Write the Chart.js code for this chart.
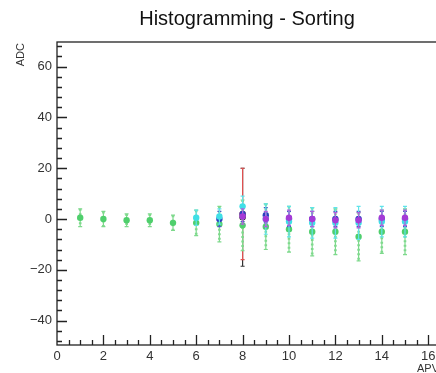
<!DOCTYPE html>
<html>
<head>
<meta charset="utf-8">
<script src="https://cdn.jsdelivr.net/npm/chart.js@4"></script>
<style>
  html, body { margin: 0; padding: 0; background: #fff; overflow: hidden; }
  #wrap { width: 494px; height: 373px; }
</style>
</head>
<body>
<div id="wrap"><canvas id="chart" width="494" height="373"></canvas></div>
<script>
// APV index along x
const apv = [1, 2, 3, 4, 5, 6, 7, 8, 9, 10, 11, 12, 13, 14, 15];

// ADC mean and error per series (null = not drawn)
const greenAdc = [0.5, 0, -0.5, -0.5, -1.5, -1.5, -2, -2.5, -3, -4, -5, -5, -7, -5, -5];
const greenErr = [3.5, 3, 2.5, 2.5, 3, 5, 7, 10, 9, 9, 9.5, 9, 9.5, 8.5, 9];
const cyanAdc = [null, null, null, null, null, 0.5, 1, 5, 0, -1, -1.5, -1.5, -1.5, -1, -1];
const cyanErr = [null, null, null, null, null, 3, 3, 4, 6, 6, 6, 6, 6.5, 6, 6];
const magentaAdc = [null, null, null, null, null, null, null, 1, 0, 0.5, 0, -0.5, -0.5, 0.5, 0.5];
const magentaErr = [null, null, null, null, null, null, null, 3, 3, 3, 3, 3, 3, 3, 3];
const blueAdc = [null, null, null, null, null, null, 0, 2, 1.5, 0, 0, 0, 0, 0, 0];
const blueErr = [null, null, null, null, null, null, 3, 3, 3, 3, 3, 3, 3, 3, 3];
const redAdc = [null, null, null, null, null, null, null, 2, null, null, null, null, null, null, null];
const redErr = [null, null, null, null, null, null, null, 18, null, null, null, null, null, null, null];
const blackAdc = [null, null, null, null, null, null, null, 0.7, null, null, null, null, null, null, null];
const blackErr = [null, null, null, null, null, null, null, 19.3, null, null, null, null, null, null, null];

const yTickLabels = [-40, -20, 0, 20, 40, 60];
const xTickLabels = [0, 2, 4, 6, 8, 10, 12, 14, 16];

const FONT = '"Liberation Sans", Arial, sans-serif';

function series(label, ys, errs, color, barColor, dotted) {
    const pts = [];
    apv.forEach((x, i) => {
        if (ys[i] !== null) pts.push({ x: x, y: ys[i], e: errs[i] });
    });
    return {
        label: label,
        data: pts,
        barColor: barColor,
        dotted: dotted,
        backgroundColor: color,
        borderColor: color,
        borderWidth: 0,
        pointRadius: 3.2,
        pointHoverRadius: 3.2,
        showLine: false
    };
}

// first dataset ends up on top
const datasets = [
    series('magenta', magentaAdc, magentaErr, '#a43ad6', '#b160dc', false),
    series('cyan', cyanAdc, cyanErr, '#3fdfe6', '#5fe3ea', false),
    series('blue', blueAdc, blueErr, '#2b3fbf', '#4a5cc8', false),
    series('green', greenAdc, greenErr, '#4fcf6c', '#7ed98c', true),
    series('red', redAdc, redErr, '#de3a3a', '#e05050', false),
    series('black', blackAdc, blackErr, '#222222', '#333333', false)
];

const errorBars = {
    id: 'errorBars',
    beforeDatasetDraw(chart, args) {
        const ds = chart.data.datasets[args.index];
        const yScale = chart.scales.y;
        const ctx = chart.ctx;
        ctx.save();
        args.meta.data.forEach((pt, i) => {
            const raw = ds.data[i];
            const top = yScale.getPixelForValue(raw.y + raw.e);
            const bot = yScale.getPixelForValue(raw.y - raw.e);
            ctx.strokeStyle = ds.barColor;
            ctx.lineWidth = 1.2;
            ctx.setLineDash([]);
            ctx.beginPath();
            ctx.moveTo(pt.x, top);
            ctx.lineTo(pt.x, bot);
            ctx.moveTo(pt.x - 2, top);
            ctx.lineTo(pt.x + 2, top);
            ctx.moveTo(pt.x - 2, bot);
            ctx.lineTo(pt.x + 2, bot);
            ctx.stroke();
            if (ds.dotted) {
                ctx.lineWidth = 2.6;
                ctx.setLineDash([2, 2.5]);
                ctx.beginPath();
                ctx.moveTo(pt.x, top);
                ctx.lineTo(pt.x, bot);
                ctx.stroke();
            }
        });
        ctx.restore();
    }
};

const frame = {
    id: 'frame',
    afterDraw(chart) {
        const ctx = chart.ctx;
        const a = chart.chartArea;
        const xs = chart.scales.x;
        const ys = chart.scales.y;
        ctx.save();
        ctx.strokeStyle = '#222';
        ctx.lineWidth = 1.3;
        ctx.strokeRect(a.left, a.top, a.right - a.left, a.bottom - a.top);

        ctx.beginPath();
        for (let v = -48; v <= 68; v += 4) {
            const y = Math.round(ys.getPixelForValue(v)) + 0.5;
            const len = v % 20 === 0 ? 10 : 5;
            ctx.moveTo(a.left, y);
            ctx.lineTo(a.left + len, y);
        }
        for (let v = 0.5; v <= 17; v += 0.5) {
            const x = Math.round(xs.getPixelForValue(v)) + 0.5;
            const len = v % 2 === 0 ? 10 : 5;
            ctx.moveTo(x, a.bottom);
            ctx.lineTo(x, a.bottom - len);
        }
        ctx.stroke();

        // title, centred on the full pad
        ctx.fillStyle = '#111';
        ctx.font = '20px ' + FONT;
        ctx.textAlign = 'center';
        ctx.textBaseline = 'alphabetic';
        ctx.fillText('Histogramming - Sorting', chart.width / 2, 25);

        ctx.fillStyle = '#333';
        ctx.font = '11px ' + FONT;
        ctx.textAlign = 'left';
        ctx.fillText('APV', 417, 372);

        ctx.translate(24, 43);
        ctx.rotate(-Math.PI / 2);
        ctx.textAlign = 'right';
        ctx.fillText('ADC', 0, 0);
        ctx.restore();
    }
};

new Chart(document.getElementById('chart'), {
    type: 'scatter',
    data: { datasets: datasets },
    options: {
        responsive: false,
        animation: false,
        layout: { padding: { left: 0, right: 42.6, top: 42, bottom: 0 } },
        plugins: {
            legend: { display: false },
            tooltip: { enabled: false },
            title: { display: false }
        },
        scales: {
            x: {
                type: 'linear',
                min: 0,
                max: 17,
                grid: { display: false, drawTicks: false },
                border: { display: false },
                afterFit(scale) { scale.height = 28; },
                ticks: {
                    stepSize: 2,
                    includeBounds: false,
                    padding: 4,
                    maxRotation: 0,
                    color: '#333',
                    font: { family: FONT, size: 13 },
                    callback: v => xTickLabels.includes(v) ? String(v) : ''
                }
            },
            y: {
                type: 'linear',
                min: -49.6,
                max: 69.7,
                grid: { display: false, drawTicks: false },
                border: { display: false },
                afterFit(scale) { scale.width = 57; },
                ticks: {
                    stepSize: 20,
                    includeBounds: false,
                    padding: 5,
                    color: '#333',
                    font: { family: FONT, size: 13 },
                    callback: v => yTickLabels.includes(v) ? String(v).replace('-', '\u2212') : ''
                }
            }
        }
    },
    plugins: [errorBars, frame]
});
</script>
</body>
</html>
